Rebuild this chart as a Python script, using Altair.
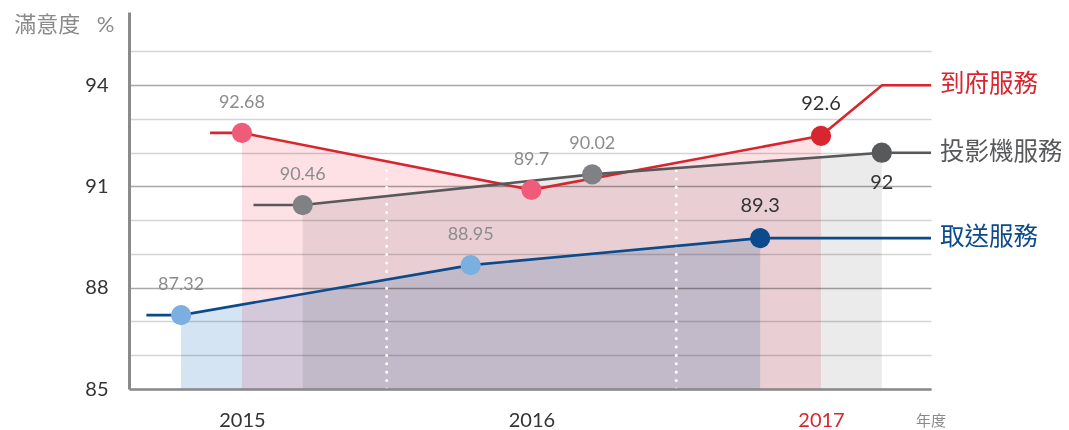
import altair as alt
import pandas as pd

# ---------------- data ----------------
years = [2015, 2016, 2017]
series_names = ["到府服務", "投影機服務", "取送服務"]

# values as drawn on the chart (%)
home_values = [92.59, 90.90, 92.50]        # 到府服務
projector_values = [90.45, 91.36, 92.00]   # 投影機服務
pickup_values = [87.19, 88.67, 89.47]      # 取送服務

# value labels printed on the chart
home_labels = ["92.68", "89.7", "92.6"]
projector_labels = ["90.46", "90.02", "92"]
pickup_labels = ["87.32", "88.95", "89.3"]

# level where each series' line ends at the right (next to its name)
end_levels = [94.0, 92.0, 89.47]

y_ticks = list(range(85, 96))

# ---------------- styles ----------------
line_colors = {"到府服務": "#d7262f", "投影機服務": "#58595b", "取送服務": "#0b4a8b"}
area_colors = {"到府服務": "#fde1e5", "投影機服務": "#ebebeb", "取送服務": "#d5e4f3"}
early_point_colors = {"到府服務": "#ef5b78", "投影機服務": "#808184", "取送服務": "#7aafe0"}
dodge = {"到府服務": 0.0, "投影機服務": 0.21, "取送服務": -0.21}
lead_in = {"到府服務": 0.11, "投影機服務": 0.17, "取送服務": 0.12}
X_MIN, X_MAX = 2014.61, 2017.38
Y_MIN, Y_MAX = 85, 96.17

values = dict(zip(series_names, [home_values, projector_values, pickup_values]))
labels = dict(zip(series_names, [home_labels, projector_labels, pickup_labels]))
ends = dict(zip(series_names, end_levels))

# ---------------- tables ----------------
pt_rows, line_rows, name_rows = [], [], []
for s in series_names:
    vs = values[s]
    for i, (yr, v) in enumerate(zip(years, vs)):
        last = yr == years[-1]
        pt_rows.append(dict(series=s, year=yr, x=yr + dodge[s], y=v, base=Y_MIN,
                            label=labels[s][i],
                            pcolor=line_colors[s] if last else early_point_colors[s],
                            acolor=area_colors[s], last=last,
                            below=(last and s == "投影機服務")))
    xs = [yr + dodge[s] for yr in years]
    pts = [(xs[0] - lead_in[s], vs[0])] + list(zip(xs, vs))
    if ends[s] != vs[-1]:
        pts.append((years[-1] + 0.211, ends[s]))
    pts.append((X_MAX, ends[s]))
    for k, (xx, yy) in enumerate(pts):
        line_rows.append(dict(series=s, order=k, x=xx, y=yy, lcolor=line_colors[s]))
    name_rows.append(dict(series=s, x=X_MAX, y=ends[s], lcolor=line_colors[s]))

pts_df = pd.DataFrame(pt_rows)
line_df = pd.DataFrame(line_rows)
name_df = pd.DataFrame(name_rows)
div_df = pd.DataFrame(dict(x=[(a + b) / 2 for a, b in zip(years[:-1], years[1:])],
                           y=[85.0] * (len(years) - 1), y2=[91.6] * (len(years) - 1)))

FONT = "Lato, 'Noto Sans CJK TC', sans-serif"

x_scale = alt.Scale(domain=[X_MIN, X_MAX], nice=False, zero=False)
y_scale = alt.Scale(domain=[Y_MIN, Y_MAX], nice=False, zero=False)

x_axis = alt.Axis(
    values=years, format="d", grid=False, ticks=False, tickSize=0,
    labelFontSize=20, labelPadding=21, labelFont=FONT,
    labelColor={"condition": {"test": "datum.value == 2017", "value": "#d7262f"}, "value": "#333333"},
    domainColor="#8a8a8a", domainWidth=2.5, zindex=1,
    title="年度", titleFontSize=15, titleColor="#8a8a8a", titleFontWeight="normal",
    titleX=801.5, titleY=31, titleAlign="center", titleBaseline="middle", titleFont=FONT,
)
y_axis = alt.Axis(
    values=y_ticks, ticks=False, tickSize=0,
    labelExpr="datum.value % 3 == 1 ? datum.label : ''",
    labelFontSize=20, labelColor="#333333", labelPadding=21, labelFont=FONT,
    grid=True, gridWidth=1.5,
    gridColor={"condition": {"test": "datum.value % 3 == 1", "value": "#a9a9a9"}, "value": "#d4d4d4"},
    domainColor="#8a8a8a", domainWidth=3,
    title="滿意度\u2002 %", titleAngle=0, titleAlign="right", titleBaseline="middle",
    titleX=-15, titleY=12, titleFontSize=22, titleColor="#8a8a8a",
    titleFontWeight="normal", titleFont=FONT,
)

xenc = alt.X("x:Q", scale=x_scale, axis=x_axis)
yenc = alt.Y("y:Q", scale=y_scale, axis=y_axis)

areas = alt.Chart(pts_df).mark_area(blend="multiply").encode(
    x=xenc,
    y=alt.Y("y:Q", scale=y_scale, axis=y_axis, stack=None),
    y2="base:Q",
    color=alt.Color("acolor:N", scale=None), detail="series:N",
)

dividers = alt.Chart(div_df).mark_rule(
    color="white", strokeWidth=3, strokeDash=[0.1, 8.3], strokeCap="round"
).encode(x=xenc, y=yenc, y2="y2:Q")

lines = alt.Chart(line_df).mark_line(strokeWidth=2.6).encode(
    x=xenc, y=yenc, color=alt.Color("lcolor:N", scale=None),
    detail="series:N", order="order:Q",
)

points = alt.Chart(pts_df).mark_circle(size=410, opacity=1).encode(
    x=xenc, y=yenc, color=alt.Color("pcolor:N", scale=None),
)

early_text = alt.Chart(pts_df).transform_filter("!datum.last").mark_text(
    dy=-30, fontSize=18, color="#8c8c8c", font=FONT
).encode(x=xenc, y=yenc, text="label:N")

last_text_above = alt.Chart(pts_df).transform_filter("datum.last && !datum.below").mark_text(
    dy=-32, fontSize=20, color="#333333", font=FONT
).encode(x=xenc, y=yenc, text="label:N")

last_text_below = alt.Chart(pts_df).transform_filter("datum.below").mark_text(
    dy=30, fontSize=20, color="#333333", font=FONT
).encode(x=xenc, y=yenc, text="label:N")

names = alt.Chart(name_df).mark_text(
    align="left", baseline="middle", dx=9, fontSize=24.5, font=FONT
).encode(x=xenc, y=yenc, text="series:N", color=alt.Color("lcolor:N", scale=None))

chart = alt.layer(
    areas, dividers, lines, points, early_text, last_text_above, last_text_below, names
).properties(
    width=802, height=377,
    padding={"left": 121, "top": 4, "right": 130, "bottom": 41},
    autosize=alt.AutoSizeParams(type="none"),
    background="white",
).configure(font=FONT).configure_view(stroke=None, strokeWidth=0)

chart.save("out.html", embed_options={"renderer": "svg", "actions": False})
